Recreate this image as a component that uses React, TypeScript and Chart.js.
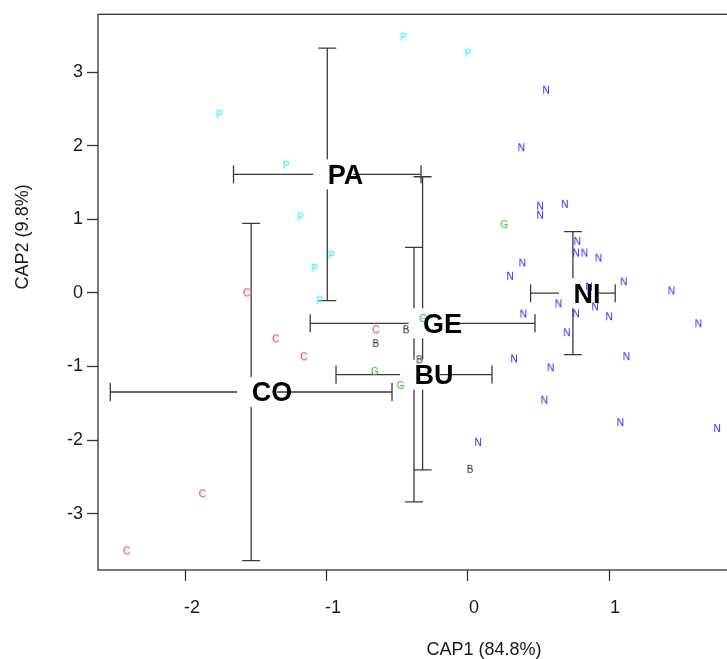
import React, { useEffect, useRef } from 'react';
import { Chart, registerables } from 'chart.js';

Chart.register(...registerables);

// ---- axis setup ----
const X_TICKS = [-2, -1, 0, 1, 2];
const Y_TICKS = [-3, -2, -1, 0, 1, 2, 3];
const X_MIN = -2.624;
const X_MAX = 2.851;
const Y_MIN = -3.764;
const Y_MAX = 3.777;
const X_TITLE = 'CAP1 (84.8%)';
const Y_TITLE = 'CAP2 (9.8%)';

// ---- sample scores (letter = group) ----
const POINTS_P = [
  [-0.459, 3.466], [0.0, 3.25], [-1.764, 2.416], [-1.291, 1.727], [-1.187, 1.024],
  [-0.969, 0.503], [-1.089, 0.327], [-1.052, -0.115], [-0.95, 1.676],
];
const POINTS_C = [
  [-1.57, -0.007], [-1.364, -0.632], [-1.165, -0.876], [-0.655, -0.507],
  [-1.884, -2.736], [-2.421, -3.511],
];
const POINTS_B = [
  [-0.44, -0.507], [-0.655, -0.696], [-0.345, -0.916], [0.014, -2.403],
];
const POINTS_G = [
  [0.258, 0.921], [-0.317, -0.354], [-0.66, -1.074], [-0.478, -1.264],
];
const POINTS_N = [
  [0.553, 2.746], [0.378, 1.966], [0.511, 1.169], [0.511, 1.047], [0.686, 1.196],
  [0.775, 0.692], [0.766, 0.534], [0.825, 0.534], [0.925, 0.466], [0.385, 0.399],
  [0.298, 0.219], [1.104, 0.142], [1.442, 0.02], [0.858, 0.074], [0.901, -0.196],
  [0.641, -0.155], [1.0, -0.331], [0.766, -0.291], [0.392, -0.295], [1.633, -0.426],
  [0.7, -0.547], [1.123, -0.872], [0.326, -0.903], [0.586, -1.024], [0.541, -1.466],
  [1.08, -1.768], [1.766, -1.849], [0.071, -2.038],
];

const GROUP_LETTERS = ['P', 'C', 'B', 'G', 'N'];
const GROUP_COLORS = ['#1FEFEF', '#FF2020', '#2a2a2a', '#1FC41F', '#2020FF'];
const GROUP_POINTS = [POINTS_P, POINTS_C, POINTS_B, POINTS_G, POINTS_N];

// ---- group centroids with error bars ----
const CENTROID_LABELS = ['PA', 'CO', 'GE', 'BU', 'NI'];
const CENTROID_X = [-0.998, -1.538, -0.322, -0.383, 0.744];
const CENTROID_Y = [1.61, -1.346, -0.413, -1.11, -0.004];
const CENTROID_SX = [0.665, 0.999, 0.797, 0.553, 0.3];
const CENTROID_SY = [1.715, 2.29, 1.99, 1.728, 0.835];

const FONT = '"Liberation Sans", Arial, Helvetica, sans-serif';

function letterImage(letter: string, color: string) {
  const c = document.createElement('canvas');
  c.width = 14;
  c.height = 14;
  const ctx = c.getContext('2d')!;
  ctx.font = `10px ${FONT}`;
  ctx.fillStyle = color;
  ctx.textAlign = 'center';
  ctx.textBaseline = 'middle';
  ctx.fillText(letter, 7, 7.5);
  return c;
}

const overlayPlugin = {
  id: 'capOverlay',
  beforeDatasetsDraw(chart: any) {
    const { ctx, chartArea, scales } = chart;
    const xs = scales.x;
    const ys = scales.y;
    ctx.save();
    // frame
    ctx.strokeStyle = '#333';
    ctx.lineWidth = 1.3;
    ctx.strokeRect(chartArea.left, chartArea.top - 0.5, chartArea.right - chartArea.left, chartArea.bottom - chartArea.top + 0.5);
    // error bars
    ctx.strokeStyle = '#3a3a3a';
    ctx.lineWidth = 1.3;
    const cap = 9;
    for (let i = 0; i < CENTROID_LABELS.length; i++) {
      const cx = xs.getPixelForValue(CENTROID_X[i]);
      const cy = ys.getPixelForValue(CENTROID_Y[i]);
      const x0 = xs.getPixelForValue(CENTROID_X[i] - CENTROID_SX[i]);
      const x1 = xs.getPixelForValue(CENTROID_X[i] + CENTROID_SX[i]);
      const y0 = ys.getPixelForValue(CENTROID_Y[i] - CENTROID_SY[i]);
      const y1 = ys.getPixelForValue(CENTROID_Y[i] + CENTROID_SY[i]);
      ctx.beginPath();
      ctx.moveTo(x0, cy); ctx.lineTo(x1, cy);
      ctx.moveTo(cx, y0); ctx.lineTo(cx, y1);
      ctx.moveTo(x0, cy - cap); ctx.lineTo(x0, cy + cap);
      ctx.moveTo(x1, cy - cap); ctx.lineTo(x1, cy + cap);
      ctx.moveTo(cx - cap, y0); ctx.lineTo(cx + cap, y0);
      ctx.moveTo(cx - cap, y1); ctx.lineTo(cx + cap, y1);
      ctx.stroke();
    }
    // white label boxes
    ctx.fillStyle = '#ffffff';
    for (let i = 0; i < CENTROID_LABELS.length; i++) {
      const cx = xs.getPixelForValue(CENTROID_X[i]);
      const cy = ys.getPixelForValue(CENTROID_Y[i]);
      ctx.fillRect(cx - 14, cy - 15, 40, 30);
    }
    ctx.restore();
  },
  afterDatasetsDraw(chart: any) {
    const { ctx, scales } = chart;
    const xs = scales.x;
    const ys = scales.y;
    ctx.save();
    ctx.fillStyle = '#000';
    ctx.font = `bold 27px ${FONT}`;
    ctx.textAlign = 'left';
    ctx.textBaseline = 'middle';
    for (let i = 0; i < CENTROID_LABELS.length; i++) {
      const cx = xs.getPixelForValue(CENTROID_X[i]);
      const cy = ys.getPixelForValue(CENTROID_Y[i]);
      ctx.fillText(CENTROID_LABELS[i], cx + 0.5, cy + 2);
    }
    ctx.restore();
  },
  afterDraw(chart: any) {
    const { ctx, chartArea } = chart;
    ctx.save();
    ctx.translate(23, chartArea.top + (chartArea.bottom - chartArea.top) * 0.40);
    ctx.rotate(-Math.PI / 2);
    ctx.font = `18px ${FONT}`;
    ctx.fillStyle = '#1a1a1a';
    ctx.textAlign = 'center';
    ctx.textBaseline = 'middle';
    ctx.fillText(Y_TITLE, 0, 0);
    ctx.restore();
  },
};

export default function App() {
  const ref = useRef<HTMLCanvasElement>(null);

  useEffect(() => {
    if (!ref.current) return;
    const datasets = GROUP_LETTERS.map((letter, gi) => {
      const img = letterImage(letter, GROUP_COLORS[gi]);
      return {
        type: 'scatter' as const,
        label: letter,
        data: GROUP_POINTS[gi].map(([x, y]) => ({ x, y })),
        pointStyle: img,
        pointRadius: 3,
        pointHoverRadius: 3,
        showLine: false,
      };
    });

    const chart = new Chart(ref.current, {
      type: 'scatter',
      data: { datasets: datasets as any },
      options: {
        responsive: false,
        animation: false,
        events: [],
        layout: { padding: { top: 12, right: 30, left: 0, bottom: 0 } },
        plugins: {
          legend: { display: false },
          tooltip: { enabled: false },
        },
        scales: {
          x: {
            type: 'linear',
            min: X_MIN,
            max: X_MAX,
            afterBuildTicks: (s: any) => { s.ticks = X_TICKS.map((v) => ({ value: v })); },
            afterFit: (s: any) => { s.height = 89; },
            grid: { drawOnChartArea: false, drawTicks: true, tickLength: 11, tickColor: '#333', tickWidth: 1.3 },
            border: { display: false },
            ticks: {
              color: '#1a1a1a',
              font: { family: FONT, size: 18 },
              padding: 16,
              labelOffset: 6,
              maxRotation: 0,
              callback: (v: any) => String(v),
            },
            title: {
              display: true,
              text: X_TITLE,
              color: '#1a1a1a',
              font: { family: FONT, size: 18, lineHeight: 1.0 },
              padding: { top: 0, bottom: 0 },
            },
          },
          y: {
            type: 'linear',
            min: Y_MIN,
            max: Y_MAX,
            afterBuildTicks: (s: any) => { s.ticks = Y_TICKS.map((v) => ({ value: v })); },
            afterFit: (s: any) => { s.width = 98; },
            grid: { drawOnChartArea: false, drawTicks: true, tickLength: 11, tickColor: '#333', tickWidth: 1.3 },
            border: { display: false },
            ticks: {
              color: '#1a1a1a',
              font: { family: FONT, size: 18 },
              padding: 4,
              callback: (v: any) => String(v),
            },
          },
        },
      },
      plugins: [overlayPlugin],
    });
    return () => chart.destroy();
  }, []);

  return (
    <div style={{ position: 'absolute', left: 0, top: 0, width: 727, height: 659, overflow: 'hidden', background: '#fff' }}>
      <canvas ref={ref} width={900} height={659} style={{ display: 'block' }} />
    </div>
  );
}
